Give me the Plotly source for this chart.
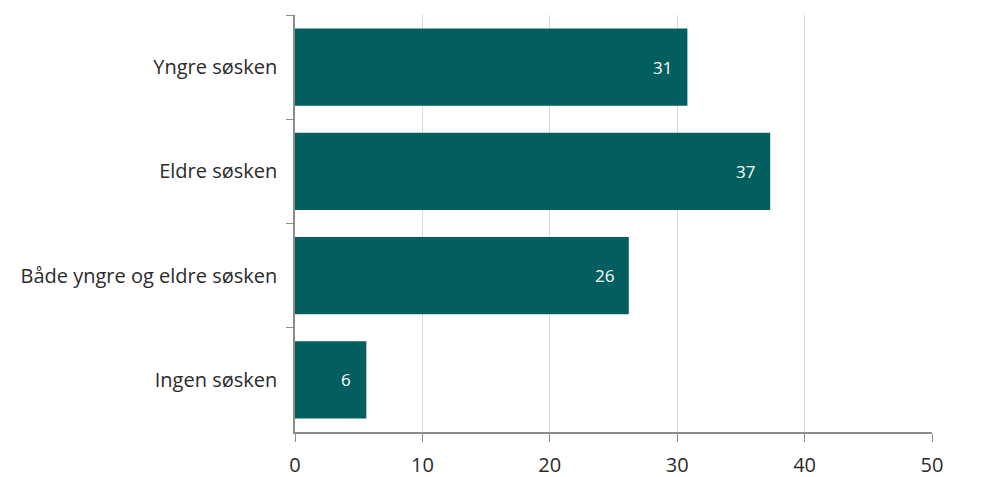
import plotly.graph_objects as go

categories = ["Yngre søsken", "Eldre søsken", "Både yngre og eldre søsken", "Ingen søsken"]
values = [30.8, 37.3, 26.2, 5.6]
labels = ["31", "37", "26", "6"]
x_ticks = [0, 10, 20, 30, 40, 50]

bar_color = "#035f5f"
axis_color = "#8c8c8c"
grid_color = "#d9d9d9"
font_family = "Open Sans, Noto Sans, sans-serif"

fig = go.Figure()
fig.add_trace(go.Bar(
    x=values, y=categories, orientation="h",
    marker=dict(color=bar_color, line=dict(width=0)),
    hoverinfo="skip",
))

for cat, v, lab in zip(categories, values, labels):
    fig.add_annotation(
        x=v, y=cat, xref="x", yref="y", text=lab, showarrow=False,
        xanchor="right", xshift=-13,
        font=dict(family=font_family, size=17, color="white"),
    )

fig.update_layout(
    width=984, height=477,
    margin=dict(l=295, r=52, t=15, b=45),
    paper_bgcolor="white", plot_bgcolor="white",
    bargap=0.26,
    showlegend=False,
    font=dict(family=font_family, size=20, color="#2b2b2b"),
    xaxis=dict(
        range=[0, 50], tickvals=x_ticks, showgrid=True, gridcolor=grid_color, gridwidth=1,
        showline=True, linecolor=axis_color, linewidth=1.5, automargin=False,
        ticks="outside", ticklen=8, tickcolor=axis_color, ticklabelstandoff=6,
        tickfont=dict(size=20, color="#2b2b2b"), zeroline=False,
    ),
    yaxis=dict(
        autorange="reversed", showline=True, linecolor=axis_color, linewidth=1.5,
        automargin=False,
        ticks="outside", ticklen=7, tickcolor=axis_color, tickson="boundaries",
        ticklabelstandoff=12,
        showgrid=False, tickfont=dict(size=20, color="#2b2b2b"),
    ),
)

fig.write_html(
    "out.html",
    config={"displayModeBar": False},
    post_script="document.body.style.margin='0';document.body.style.overflow='hidden';",
)
